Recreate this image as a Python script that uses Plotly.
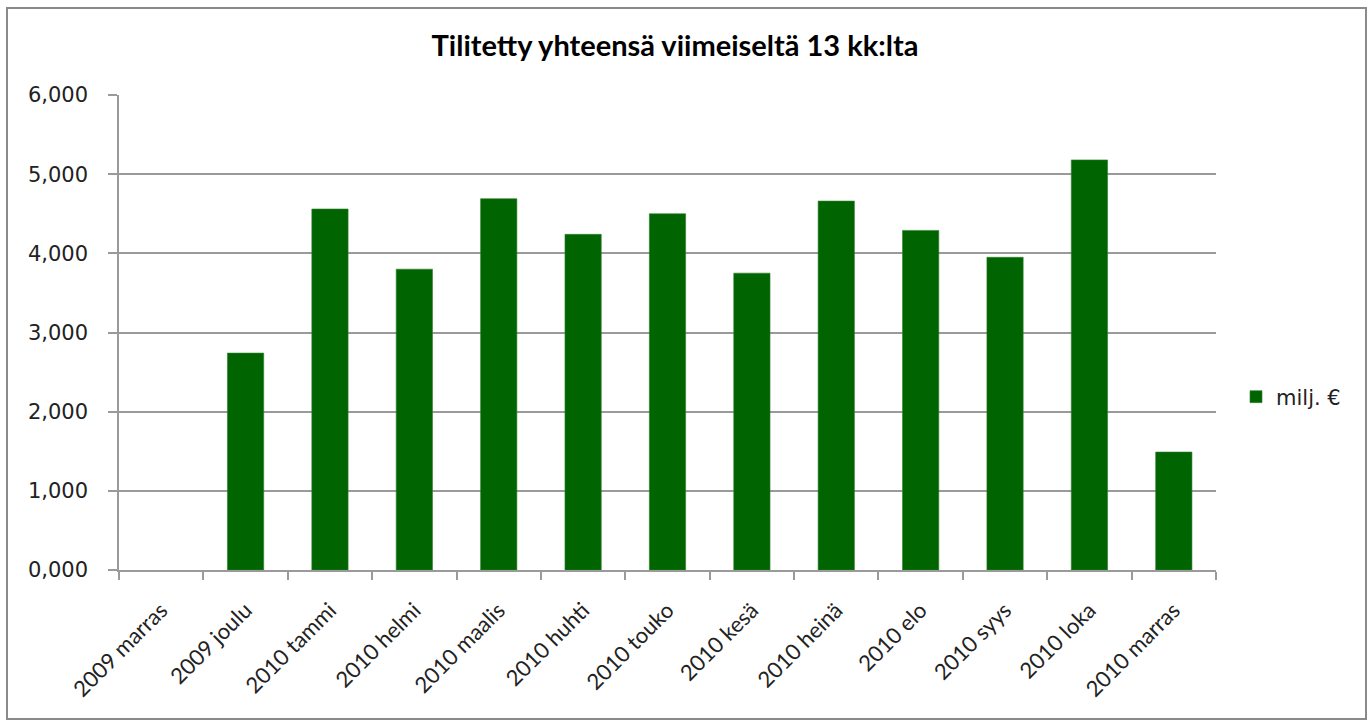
import plotly.graph_objects as go

categories = ["2009 marras", "2009 joulu", "2010 tammi", "2010 helmi", "2010 maalis",
              "2010 huhti", "2010 touko", "2010 kesä", "2010 heinä", "2010 elo",
              "2010 syys", "2010 loka", "2010 marras"]
values = [None, 2.74, 4.56, 3.80, 4.69, 4.24, 4.50, 3.75, 4.66, 4.29, 3.95, 5.18, 1.49]
y_ticks = [0, 1, 2, 3, 4, 5, 6]
series_name = "milj. €"
title_text = "Tilitetty yhteensä viimeiseltä 13 kk:lta"

W, H = 1370, 722
L, R, T, B = 119, 1216, 95, 570
pw, ph = R - L, B - T

fig = go.Figure()
fig.add_trace(go.Bar(
    x=categories, y=values, name=series_name,
    marker=dict(color="#006400", line=dict(color="#2f7f2f", width=0.6)),
    showlegend=True,
))

grid = "#9a9a9a"
fig.update_layout(
    width=W, height=H,
    margin=dict(l=L, r=W - R, t=T, b=H - B, pad=0),
    paper_bgcolor="white", plot_bgcolor="white",
    bargap=0.57,
    title=dict(text="<b>" + title_text + "</b>", x=675 / W, xanchor="center",
               y=1 - 46 / H, yanchor="middle",
               font=dict(family="Lato, Open Sans, sans-serif", size=29, color="#000")),
    xaxis=dict(type="category", showgrid=False, showline=True, linecolor=grid, linewidth=1.5,
               ticks="outside", tickson="boundaries", ticklen=8, tickcolor=grid, tickwidth=1.5,
               tickangle=-45, ticklabelstandoff=17,
               tickfont=dict(family="Lato, Open Sans, sans-serif", size=22, color="#222")),
    yaxis=dict(range=[0, 6], tickvals=y_ticks, tickformat=".3f", showgrid=True, gridcolor=grid,
               gridwidth=1.5, showline=True, linecolor=grid, linewidth=1.5, ticks="outside",
               ticklen=9, tickcolor=grid, tickwidth=1.5, zeroline=False, ticklabelstandoff=16,
               tickfont=dict(family="DejaVu Sans, sans-serif", size=21, color="#222")),
    separators=", ",
    legend=dict(x=(1236 - L) / pw, y=(B - 397) / ph, xanchor="left", yanchor="middle",
                font=dict(family="DejaVu Sans, sans-serif", size=21, color="#222"),
                bgcolor="rgba(0,0,0,0)", itemwidth=30),
    shapes=[dict(type="rect", xref="paper", yref="paper",
                 x0=(7 - L) / pw, x1=(1366 - L) / pw,
                 y0=(B - 719) / ph, y1=(B - 8) / ph,
                 line=dict(color="#8a8a8a", width=2), fillcolor="rgba(0,0,0,0)", layer="below")],
)

fig.write_html("out.html", config={"displayModeBar": False},
               post_script="document.body.style.margin='0';document.body.style.overflow='hidden';")
